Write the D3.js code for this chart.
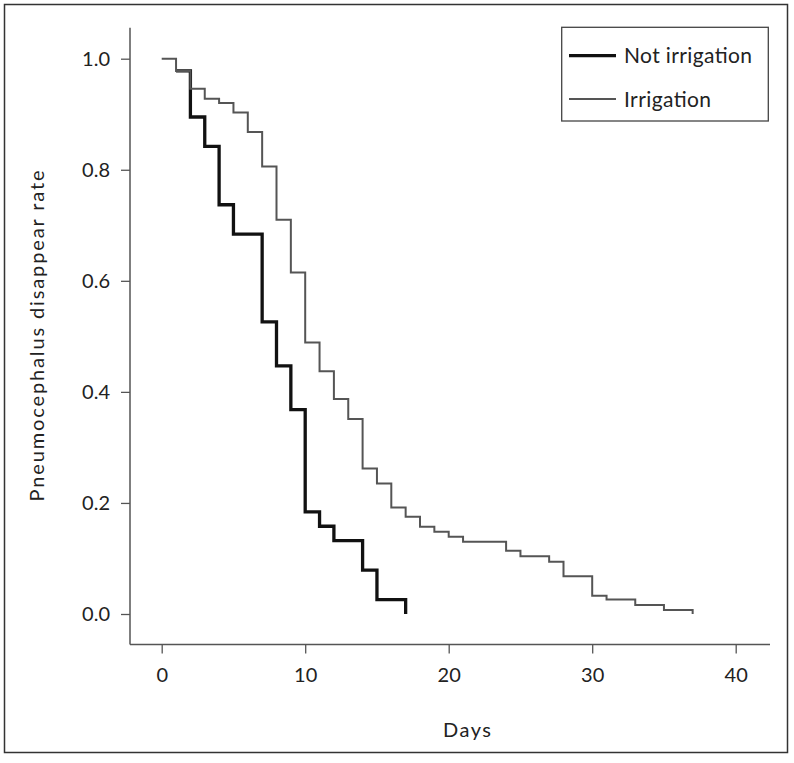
<!DOCTYPE html>
<html><head><meta charset="utf-8">
<script src="https://cdn.jsdelivr.net/npm/d3@7"></script>
<style>body{margin:0;background:#fff}svg text{font-family:"Lato","Open Sans",sans-serif;fill:#222}</style>
</head><body><svg id="c" width="794" height="763"></svg>
<script>
const notIrrDays = [1, 2, 3, 4, 5, 7, 8, 9, 10, 11, 12, 14, 15, 17];
const notIrrRate = [0.978, 0.895, 0.842, 0.737, 0.684, 0.526, 0.447, 0.368, 0.184, 0.158, 0.132, 0.079, 0.026, 0.0];
const irrDays = [0, 1, 2, 3, 4, 5, 6, 7, 8, 9, 10, 11, 12, 13, 14, 15, 16, 17, 18, 19, 20, 21, 24, 25, 27, 28, 30, 31, 33, 35, 37];
const irrRate = [1.0, 0.978, 0.946, 0.928, 0.920, 0.903, 0.868, 0.806, 0.710, 0.615, 0.489, 0.437, 0.387, 0.351, 0.262, 0.235, 0.192, 0.175, 0.157, 0.148, 0.139, 0.130, 0.114, 0.104, 0.094, 0.068, 0.033, 0.026, 0.016, 0.007, 0.0];
const xTicks = [0, 10, 20, 30, 40];
const yTicks = [0, 0.2, 0.4, 0.6, 0.8, 1.0];
const seriesNames = ["Not irrigation", "Irrigation"];

const svg = d3.select("#c");
const x = d3.scaleLinear().domain([0, 40]).range([161.7, 735.7]);
const y = d3.scaleLinear().domain([0, 1]).range([614, 58.7]);
const axisColor = "#555";

// outer frame
svg.append("rect").attr("x", 4.5).attr("y", 4.5).attr("width", 783).attr("height", 748)
  .attr("fill", "none").attr("stroke", "#333").attr("stroke-width", 1.5);

// axis lines (L shape)
svg.append("line").attr("x1", 130).attr("x2", 130).attr("y1", 27.7).attr("y2", 644.5)
  .attr("stroke", axisColor).attr("stroke-width", 1.5);
svg.append("line").attr("x1", 130).attr("x2", 770).attr("y1", 644.5).attr("y2", 644.5)
  .attr("stroke", axisColor).attr("stroke-width", 1.5);

// y axis ticks
const yAx = svg.append("g").attr("transform", "translate(130,0)")
  .call(d3.axisLeft(y).tickValues(yTicks).tickFormat(d3.format(".1f")).tickSize(9).tickPadding(11));
yAx.select(".domain").remove();
yAx.selectAll("line").attr("stroke", axisColor).attr("stroke-width", 1.3);
yAx.selectAll("text").attr("font-size", 20).attr("fill", "#222").attr("font-family", null);

// x axis ticks
const xAx = svg.append("g").attr("transform", "translate(0,644.5)")
  .call(d3.axisBottom(x).tickValues(xTicks).tickFormat(d3.format("d")).tickSize(9).tickPadding(14));
xAx.select(".domain").remove();
xAx.selectAll("line").attr("stroke", axisColor).attr("stroke-width", 1.3);
xAx.selectAll("text").attr("font-size", 20).attr("fill", "#222").attr("font-family", null);

// axis titles
svg.append("text").attr("x", 467).attr("y", 737).attr("text-anchor", "middle")
  .attr("font-size", 20).attr("textLength", 48).attr("lengthAdjust", "spacing").text("Days");
svg.append("text").attr("transform", "translate(44,336) rotate(-90)").attr("text-anchor", "middle")
  .attr("font-size", 20).attr("textLength", 331).attr("lengthAdjust", "spacing")
  .text("Pneumocephalus disappear rate");

// curves
const line = d3.line().x(d => x(d[0])).y(d => y(d[1])).curve(d3.curveStepAfter);
svg.append("path").datum(notIrrDays.map((d, i) => [d, notIrrRate[i]]))
  .attr("d", line).attr("fill", "none").attr("stroke", "#111").attr("stroke-width", 3.3)
  .attr("stroke-linejoin", "miter");
svg.append("path").datum(irrDays.map((d, i) => [d, irrRate[i]]))
  .attr("d", line).attr("fill", "none").attr("stroke", "#555").attr("stroke-width", 2)
  .attr("stroke-linejoin", "miter");

// legend
const lg = svg.append("g");
lg.append("rect").attr("x", 561.7).attr("y", 27.3).attr("width", 206.6).attr("height", 93.7)
  .attr("fill", "#fff").attr("stroke", "#444").attr("stroke-width", 1.3);
const lgStyles = [{c: "#111", w: 3.3, y: 55.7, len: 128}, {c: "#555", w: 2, y: 99, len: 87}];
seriesNames.forEach((n, i) => {
  lg.append("line").attr("x1", 569).attr("x2", 616).attr("y1", lgStyles[i].y).attr("y2", lgStyles[i].y)
    .attr("stroke", lgStyles[i].c).attr("stroke-width", lgStyles[i].w);
  lg.append("text").attr("x", 624).attr("y", lgStyles[i].y + 7.5).attr("font-size", 21)
    .attr("textLength", lgStyles[i].len).attr("lengthAdjust", "spacing").text(n);
});
</script></body></html>
